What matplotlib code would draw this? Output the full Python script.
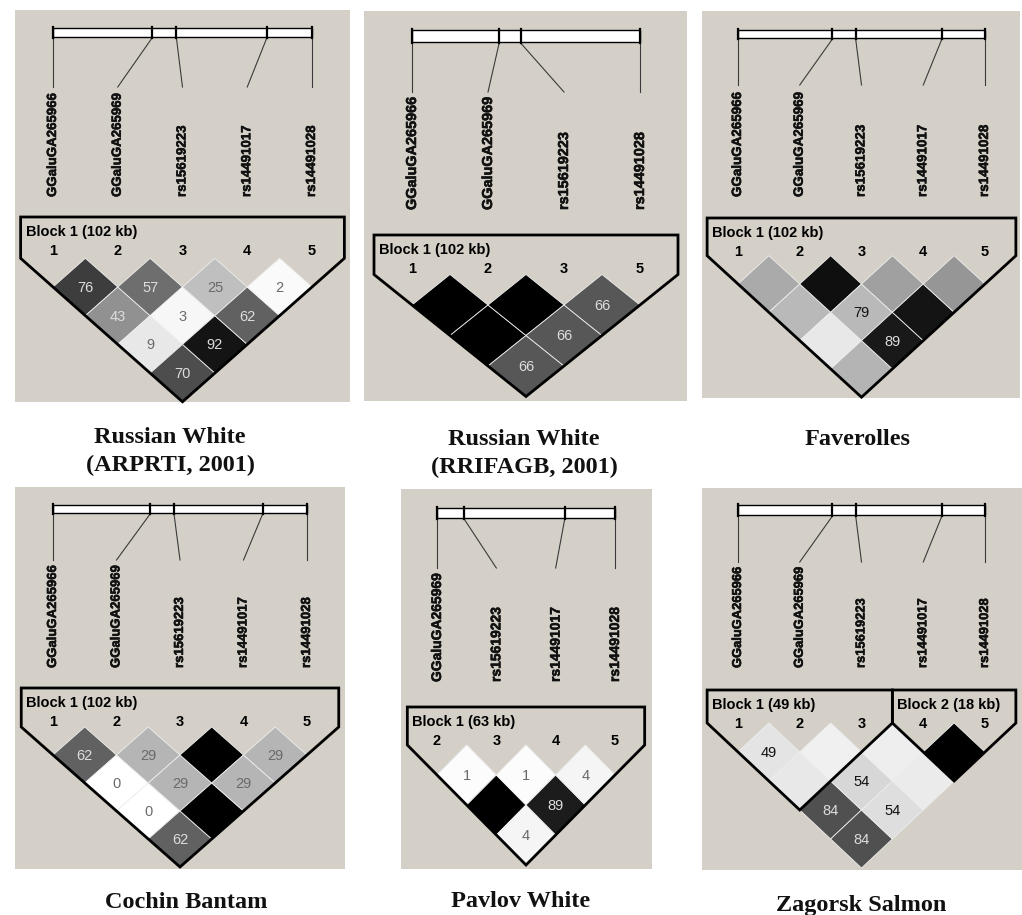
import matplotlib
matplotlib.use('Agg')
import matplotlib.pyplot as plt
import matplotlib.patheffects as pe
from matplotlib.patches import Rectangle, Polygon

####### Data #######

# markers on the chromosome and their map positions (kb from the first one)
MARKERS = ['GGaluGA265966', 'GGaluGA265969', 'rs15619223', 'rs14491017', 'rs14491028']
POS_KB = [0.0, 39.0, 48.6, 84.2, 102.0]

# pairwise LD x100, row i = marker i against every later marker (100 = no number)
ld_arprti = [[76, 43, 9, 70], [57, 3, 92], [25, 62], [2]]
ld_rrifagb = [[100, 100, 66], [100, 66], [66]]
ld_faverolles = [[100, 100, 100, 100], [100, 79, 89], [100, 100], [100]]
ld_cochin = [[62, 0, 0, 62], [29, 29, 100], [100, 29], [29]]
ld_pavlov = [[1, 100, 4], [1, 89], [4]]
ld_zagorsk = [[49, 100, 84, 84], [100, 54, 54], [100, 100], [100]]

# cell grey level (0 black .. 255 white) for the D'/LOD coloured panels
shade_faverolles = [[170, 185, 232, 180], [15, 185, 25], [160, 20], [150]]
shade_zagorsk = [[228, 232, 80, 80], [240, 215, 222], [238, 235], [0]]

# which markers each population was typed for
idx_all = [0, 1, 2, 3, 4]
idx_rrifagb = [0, 1, 2, 4]
idx_pavlov = [1, 2, 3, 4]

# haplotype blocks: (first, last) index within the panel's markers, label
blocks_full = [(0, 4, 'Block 1 (102 kb)')]
blocks_rrifagb = [(0, 3, 'Block 1 (102 kb)')]
blocks_pavlov = [(0, 3, 'Block 1 (63 kb)')]
blocks_zagorsk = [(0, 2, 'Block 1 (49 kb)'), (3, 4, 'Block 2 (18 kb)')]

titles = [
    ['Russian White', '(ARPRTI, 2001)'],
    ['Russian White', '(RRIFAGB, 2001)'],
    ['Faverolles'],
    ['Cochin Bantam'],
    ['Pavlov White'],
    ['Zagorsk Salmon'],
]

####### Layout (pixels, y down) #######

BG = '#d4d0c8'
SANS = ['Liberation Sans', 'DejaVu Sans']
SERIF = ['Liberation Serif', 'DejaVu Serif']
HEAVY = [pe.withStroke(linewidth=0.4, foreground='#111111')]

layout = [
    dict(box=(15, 10, 350, 402), x=(53, 312), bar=(28, 37), line_end=87,
         name_y=197, name_fs=9.55, top=217, yc=287, h=28.7,
         title_xy=(170, 443)),
    dict(box=(364, 11, 687, 401), x=(412, 640), bar=(30, 42), line_end=92,
         name_y=210, name_fs=10.4, top=235, yc=305, h=30.5,
         title_xy=(524, 445)),
    dict(box=(702, 11, 1020, 398), x=(738, 985), bar=(30, 38), line_end=85,
         name_y=197, name_fs=9.65, top=218, yc=284, h=28.3,
         title_xy=(858, 445)),
    dict(box=(15, 487, 345, 869), x=(53, 307), bar=(505, 513), line_end=560,
         name_y=668, name_fs=9.45, top=688, yc=755, h=28.0,
         title_xy=(186, 908)),
    dict(box=(401, 489, 652, 869), x=(437, 615), bar=(508, 518), line_end=568,
         name_y=682, name_fs=10.0, top=707, yc=775, h=30.0,
         title_xy=(521, 907)),
    dict(box=(702, 488, 1022, 870), x=(738, 985), bar=(505, 515), line_end=562,
         name_y=668, name_fs=9.3, top=690, yc=752, h=29.0,
         title_xy=(861, 911)),
]


def draw_panel(ax, g, idx, ld, shade, blocks, title, r2=True):
    x0, y0, x1, y1 = g['box']
    ax.add_patch(Rectangle((x0, y0), x1 - x0, y1 - y0, facecolor=BG,
                           edgecolor='none', zorder=0))
    names = [MARKERS[k] for k in idx]
    pos = [POS_KB[k] for k in idx]
    n = len(names)
    xa, xb = g['x']
    step = (xb - xa) / (n - 1)
    xs = [xa + k * step for k in range(n)]

    # physical map with a tick per marker, joined to the name column
    bt, bb = g['bar']
    ax.add_patch(Rectangle((xa, bt), xb - xa, bb - bt, facecolor='white',
                           edgecolor='black', lw=1.0, zorder=2))
    for k, p in enumerate(pos):
        tx = xa + (p - pos[0]) / (pos[-1] - pos[0]) * (xb - xa)
        ax.plot([tx, tx], [bt - 1, bb + 1], color='black', lw=1.6, zorder=3)
        ax.plot([tx, xs[k]], [bb + 1, g['line_end']], color='#3a3a3a',
                lw=0.8, zorder=2)
        ax.text(xs[k], g['name_y'], names[k], rotation=90, ha='center',
                va='bottom', fontsize=g['name_fs'], fontweight='bold',
                family=SANS, color='#111111', zorder=2, path_effects=HEAVY)

    # LD diamonds
    h = g['h']
    half = step / 2
    for i in range(n - 1):
        for k, v in enumerate(ld[i]):
            j = i + 1 + k
            cx = (xs[i] + xs[j]) / 2
            cy = g['yc'] + (j - i - 1) * h
            grey = shade[i][k] / 255 if shade is not None else 1 - v / 100
            fc = (grey, grey, grey)
            ax.add_patch(Polygon([(cx, cy - h), (cx + half, cy), (cx, cy + h),
                                  (cx - half, cy)], closed=True, facecolor=fc,
                                 edgecolor='#eeeeee', lw=0.6, zorder=3))
            if v < 100:
                if r2:
                    tc = '#dddddd' if grey < 0.6 else '#6a6a6a'
                else:
                    tc = '#dddddd' if grey < 0.5 else '#111111'
                ax.text(cx, cy + 1, str(v), ha='center', va='center',
                        fontsize=10.5, family=SANS, color=tc, zorder=4)

    # block outlines, labels and marker numbers
    top = g['top']
    ytop = g['yc'] - h
    for a, b, label in blocks:
        left, right = xs[a] - half, xs[b] + half
        bottom = ytop + (b - a + 1) * h
        ax.add_patch(Polygon([(left, top), (right, top), (right, ytop),
                              ((xs[a] + xs[b]) / 2, bottom), (left, ytop)],
                             closed=True, fill=False, edgecolor='black',
                             lw=2.0, joinstyle='miter', zorder=5))
        ax.text(left + 5, top + 15, label, ha='left', va='center',
                fontsize=10.5, fontweight='bold', family=SANS, zorder=2)
        for k in range(a, b + 1):
            ax.text(xs[k], top + 34, str(idx[k] + 1), ha='center',
                    va='center', fontsize=10.5, fontweight='bold',
                    family=SANS, zorder=2)

    tx, ty = g['title_xy']
    for m, line in enumerate(title):
        ax.text(tx, ty + m * 28.5, line, ha='center', va='baseline',
                fontsize=17.5, fontweight='bold', family=SERIF, color='#111111')


fig = plt.figure(figsize=(10.22, 9.15), dpi=100)
ax = fig.add_axes([0, 0, 1, 1])
ax.set_xlim(0, 1022)
ax.set_ylim(915, 0)
ax.axis('off')

panels = [
    (idx_all, ld_arprti, None, blocks_full, True),
    (idx_rrifagb, ld_rrifagb, None, blocks_rrifagb, True),
    (idx_all, ld_faverolles, shade_faverolles, blocks_full, False),
    (idx_all, ld_cochin, None, blocks_full, True),
    (idx_pavlov, ld_pavlov, None, blocks_pavlov, True),
    (idx_all, ld_zagorsk, shade_zagorsk, blocks_zagorsk, False),
]

for g, (idx, ld, shade, blocks, r2), title in zip(layout, panels, titles):
    draw_panel(ax, g, idx, ld, shade, blocks, title, r2=r2)

fig.savefig('out.png', dpi=100, facecolor='white')
